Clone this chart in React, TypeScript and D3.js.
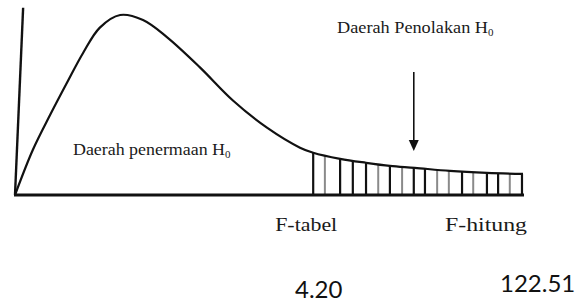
import * as d3 from "d3";
import { useEffect, useRef } from "react";

// F distribution curve (arbitrary units, peak = 100)
const curveX = [0, 3.5, 6.9, 10.2, 13.4, 16.7, 20.7, 25.2, 29.9, 36.4, 42.9, 49.6, 56.1, 58.7, 64.0, 69.1, 73.8, 78.7, 85.6, 92.9, 100];
const curveY = [0, 25.0, 44.4, 62.2, 78.9, 93.0, 100, 97.2, 87.7, 70.9, 52.5, 37.4, 26.3, 23.5, 20.1, 17.9, 16.2, 15.1, 13.4, 12.3, 11.7];

// hatching of the rejection region
const hatchX = [58.7, 61.0, 64.0, 66.5, 69.1, 71.5, 73.8, 76.2, 78.5, 80.7, 83.1, 85.4, 88.0, 90.2, 92.9, 95.1, 97.4, 99.8];
const hatchGray = [false, true, false, false, false, true, false, true, false, false, true, true, false, true, false, false, true, false];

const arrowX = 78.5;
const fTabel = 58.7;
const fHitung = 100;
const fTabelValue = "4.20";
const fHitungValue = "122.51";

export default function App() {
    const ref = useRef<SVGSVGElement>(null);

    useEffect(() => {
        const svg = d3.select(ref.current);
        svg.selectAll("*").remove();

        const x = d3.scaleLinear().domain([0, 100]).range([15, 523]);
        const y = d3.scaleLinear().domain([0, 100]).range([195, 15]);
        const onCurve = d3.scaleLinear().domain(curveX).range(curveY);

        // hatch lines
        svg.selectAll("line.hatch")
            .data(hatchX)
            .join("line")
            .attr("class", "hatch")
            .attr("x1", (d) => x(d))
            .attr("x2", (d) => x(d))
            .attr("y1", y(0))
            .attr("y2", (d) => y(onCurve(d)))
            .attr("stroke", (d, i) => (hatchGray[i] ? "#8a8a8a" : "#111"))
            .attr("stroke-width", (d, i) => (hatchGray[i] ? 2 : 2.2));

        // curve
        const line = d3
            .line<number>()
            .x((d, i) => x(curveX[i]))
            .y((d) => y(d))
            .curve(d3.curveCatmullRom.alpha(0.5));

        svg.append("path")
            .datum(curveY)
            .attr("d", line)
            .attr("fill", "none")
            .attr("stroke", "#111")
            .attr("stroke-width", 2.2);

        // axes
        svg.append("line")
            .attr("x1", x(0))
            .attr("x2", x(1.6))
            .attr("y1", y(0))
            .attr("y2", y(104))
            .attr("stroke", "#111")
            .attr("stroke-width", 2.4);

        svg.append("line")
            .attr("x1", x(0) - 1)
            .attr("x2", x(100) + 1)
            .attr("y1", y(0))
            .attr("y2", y(0))
            .attr("stroke", "#111")
            .attr("stroke-width", 3);

        // arrow
        const ax = x(arrowX);
        svg.append("line")
            .attr("x1", ax)
            .attr("x2", ax)
            .attr("y1", 72)
            .attr("y2", 142)
            .attr("stroke", "#111")
            .attr("stroke-width", 1.6);
        svg.append("path")
            .attr("d", `M${ax - 5},140 L${ax + 5},140 L${ax},151 Z`)
            .attr("fill", "#111");

        // labels
        const serif = "'Liberation Serif', 'Times New Roman', serif";
        const h0Label = (text: string, lx: number, ly: number, len: number) => {
            const t = svg.append("text")
                .attr("x", lx)
                .attr("y", ly)
                .attr("font-family", serif)
                .attr("font-size", 16)
                .attr("fill", "#1a1a1a");
            t.append("tspan").text(text).attr("textLength", len).attr("lengthAdjust", "spacingAndGlyphs");
            t.append("tspan").text("0").attr("font-size", 11).attr("dy", 3);
        };
        h0Label("Daerah Penolakan H", 337, 33, 151);
        h0Label("Daerah penermaan H", 73, 155, 152);

        svg.append("text")
            .attr("x", x(fTabel) - 38)
            .attr("y", 231)
            .attr("font-family", serif)
            .attr("font-size", 19)
            .attr("fill", "#1a1a1a")
            .attr("textLength", 62)
            .attr("lengthAdjust", "spacingAndGlyphs")
            .text("F-tabel");

        svg.append("text")
            .attr("x", x(fHitung) - 78)
            .attr("y", 231)
            .attr("font-family", serif)
            .attr("font-size", 19)
            .attr("fill", "#1a1a1a")
            .attr("textLength", 82)
            .attr("lengthAdjust", "spacingAndGlyphs")
            .text("F-hitung");

        const sans = "Lato, 'Open Sans', sans-serif";
        svg.append("text")
            .attr("x", 295)
            .attr("y", 298)
            .attr("font-family", sans)
            .attr("font-size", 24)
            .attr("fill", "#111")
            .text(fTabelValue);

        svg.append("text")
            .attr("x", 500)
            .attr("y", 292)
            .attr("font-family", sans)
            .attr("font-size", 24)
            .attr("fill", "#111")
            .text(fHitungValue);
    }, []);

    return (
        <svg
            ref={ref}
            width={578}
            height={303}
            style={{ position: "absolute", left: 0, top: 0, background: "#fff" }}
        ></svg>
    );
}
